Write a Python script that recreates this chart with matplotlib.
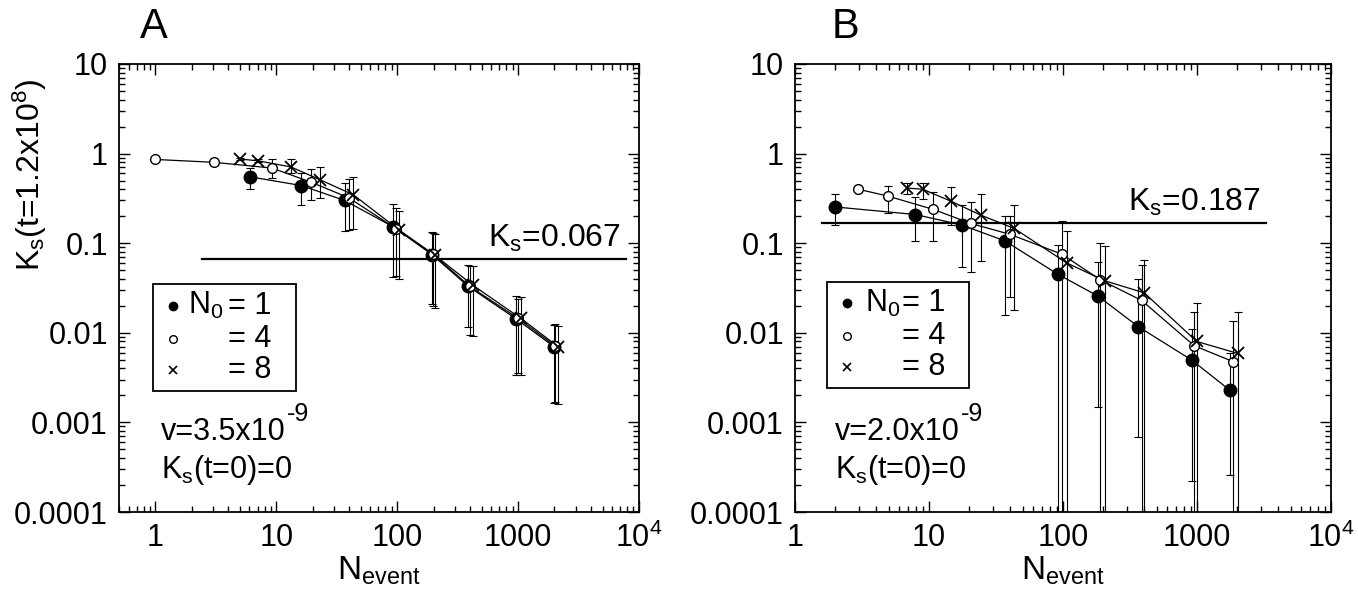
import numpy as np
import matplotlib
matplotlib.use('Agg')
import matplotlib.pyplot as plt
from matplotlib.patches import Rectangle

plt.rcParams['font.family'] = ['Liberation Sans', 'DejaVu Sans']
plt.rcParams['mathtext.fontset'] = 'custom'
plt.rcParams['mathtext.rm'] = 'Liberation Sans'
plt.rcParams['mathtext.it'] = 'Liberation Sans'
plt.rcParams['mathtext.bf'] = 'Liberation Sans:bold'

BOTTOM = 1e-6  # error bars that run off the bottom of the log axis

# ---- panel A data (v=3.5e-9) ----
a_x1 = [6.1, 16.1, 36.7, 93, 194, 388, 962, 1985]
a_y1 = [0.55, 0.44, 0.30, 0.152, 0.0746, 0.0329, 0.0143, 0.0070]
a_hi1 = [0.69, 0.61, 0.47, 0.274, 0.134, 0.057, 0.0256, 0.0123]
a_lo1 = [0.40, 0.27, 0.136, 0.042, 0.021, 0.0115, 0.0034, 0.00165]

a_x4 = [1, 3.03, 9.2, 19.4, 40, 98, 198, 398, 998, 2030]
a_y4 = [0.86, 0.80, 0.69, 0.48, 0.32, 0.145, 0.075, 0.033, 0.0145, 0.0071]
a_hi4 = [0.90, 0.84, 0.86, 0.67, 0.52, 0.25, 0.13, 0.056, 0.024, 0.0125]
a_lo4 = [0.82, 0.76, 0.53, 0.30, 0.14, 0.043, 0.020, 0.0095, 0.0036, 0.0017]

a_x8 = [5.0, 7.1, 13.2, 23.1, 43.5, 104, 206, 422, 1052, 2144]
a_y8 = [0.87, 0.83, 0.71, 0.51, 0.346, 0.14, 0.073, 0.034, 0.0145, 0.0070]
a_hi8 = [0.90, 0.86, 0.86, 0.70, 0.55, 0.23, 0.128, 0.055, 0.025, 0.012]
a_lo8 = [0.84, 0.80, 0.61, 0.32, 0.145, 0.040, 0.019, 0.0092, 0.0034, 0.0016]

a_ks = 0.067
a_ks_x = [2.45, 7800]

# ---- panel B data (v=2.0e-9) ----
b_x1 = [1.99, 7.9, 17.5, 36.9, 91, 183, 365, 912, 1763]
b_y1 = [0.254, 0.209, 0.160, 0.106, 0.0453, 0.0256, 0.0117, 0.00497, 0.00228]
b_hi1 = [0.357, 0.33, 0.27, 0.20, 0.096, 0.062, 0.040, 0.011, 0.006]
b_lo1 = [0.160, 0.107, 0.054, 0.016, BOTTOM, 0.0015, 0.00069, 0.00022, 0.00026]

b_x4 = [2.97, 4.92, 10.8, 20.5, 40, 98, 190, 386, 955, 1867]
b_y4 = [0.40, 0.336, 0.238, 0.166, 0.126, 0.0754, 0.039, 0.023, 0.00716, 0.00476]
b_hi4 = [0.43, 0.44, 0.37, 0.29, 0.20, 0.177, 0.101, 0.057, 0.0169, 0.0134]
b_lo4 = [0.37, 0.22, 0.107, 0.048, 0.025, BOTTOM, BOTTOM, BOTTOM, BOTTOM, BOTTOM]

b_x8 = [6.8, 8.97, 14.6, 24.3, 43.3, 107, 206, 404, 995, 2013]
b_y8 = [0.413, 0.40, 0.294, 0.206, 0.146, 0.060, 0.038, 0.0279, 0.0080, 0.00589]
b_hi8 = [0.47, 0.47, 0.42, 0.35, 0.265, 0.137, 0.093, 0.065, 0.0216, 0.0169]
b_lo8 = [0.35, 0.31, 0.16, 0.064, 0.0178, BOTTOM, BOTTOM, BOTTOM, BOTTOM, BOTTOM]

b_ks = 0.17
b_ks_x = [1.58, 3300]

xticks = [1, 10, 100, 1000, 1e4]
xtick_labels = ['1', '10', '100', '1000', '10$^4$']
yticks = [1e-4, 1e-3, 1e-2, 1e-1, 1, 10]
ytick_labels = ['0.0001', '0.001', '0.01', '0.1', '1', '10']

FS = 22


def series(ax, x, y, lo, hi, style):
    x = np.array(x)
    y = np.array(y)
    err = [y - np.array(lo), np.array(hi) - y]
    ax.errorbar(x, y, yerr=err, fmt='none', ecolor='k', elinewidth=0.8,
                capsize=3, capthick=0.8, zorder=2)
    ax.plot(x, y, '-', color='k', lw=0.9, zorder=3)
    if style == 'filled':
        ax.plot(x, y, 'o', color='k', ms=9, zorder=4)
    elif style == 'open':
        ax.plot(x, y, 'o', mfc='white', mec='k', ms=7, mew=1.0, zorder=4)
    else:
        ax.plot(x, y, 'x', color='k', ms=8, mew=1.3, zorder=4)


def panel(ax, data, ks, ks_x, ks_text, vtext, xlim, leg):
    for d, st in zip(data, ['filled', 'open', 'cross']):
        series(ax, *d, st)
    ax.plot(ks_x, [ks, ks], '-', color='k', lw=1.6, zorder=3)
    ax.text(ks_x[1] * 0.9, ks * 1.12, ks_text, ha='right', va='bottom', fontsize=FS + 1)

    ax.set_xscale('log')
    ax.set_yscale('log')
    ax.set_xlim(*xlim)
    ax.set_ylim(1e-4, 10)
    ax.set_xticks(xticks)
    ax.set_xticklabels(xtick_labels, fontsize=FS)
    ax.set_yticks(yticks)
    ax.set_yticklabels(ytick_labels, fontsize=FS)
    ax.tick_params(which='both', direction='in', top=True, right=True, width=1.0)
    ax.tick_params(which='major', length=8, pad=8)
    ax.tick_params(which='minor', length=4)
    for s in ax.spines.values():
        s.set_linewidth(1.3)
    ax.set_xlabel('N$_{\\mathrm{event}}$', fontsize=FS + 2, labelpad=0)

    # hand-made legend box
    bx0, bx1, by0, by1, mx, nx, ex = leg
    ax.add_patch(Rectangle((bx0, by0), bx1 - bx0, by1 - by0, transform=ax.transAxes,
                           fill=False, ec='k', lw=1.3, zorder=5))
    rows = [by0 + (by1 - by0) * f for f in (0.80, 0.49, 0.20)]
    ax.plot([mx], [rows[0]], 'o', color='k', ms=6, transform=ax.transAxes, zorder=6)
    ax.plot([mx], [rows[1]], 'o', mfc='white', mec='k', ms=5.5, mew=1.0,
            transform=ax.transAxes, zorder=6)
    ax.plot([mx], [rows[2]], 'x', color='k', ms=6, mew=1.2, transform=ax.transAxes, zorder=6)
    ax.text(nx, rows[0], 'N$_0$', transform=ax.transAxes, fontsize=FS, va='center', ha='left')
    for r, n in zip(rows, ['1', '4', '8']):
        ax.text(ex, r, '= ' + n, transform=ax.transAxes, fontsize=FS, va='center', ha='left')

    vt = ax.text(bx0 + 0.015, 0.16, vtext, transform=ax.transAxes, fontsize=FS, va='baseline')
    ax.annotate('-9', xy=(1.01, 0.72), xycoords=vt, fontsize=FS - 4, va='bottom', ha='left')
    ax.text(bx0 + 0.015, 0.075, 'K$_\\mathrm{s}$(t=0)=0', transform=ax.transAxes,
            fontsize=FS, va='baseline')


fig = plt.figure(figsize=(13.58, 5.93), dpi=100, facecolor='white')
axA = fig.add_axes([119 / 1358, 1 - 512 / 593, 520 / 1358, 448 / 593])
axB = fig.add_axes([795 / 1358, 1 - 512 / 593, 536 / 1358, 448 / 593])

panel(axA,
      [(a_x1, a_y1, a_lo1, a_hi1), (a_x4, a_y4, a_lo4, a_hi4), (a_x8, a_y8, a_lo8, a_hi8)],
      a_ks, a_ks_x, 'K$_\\mathrm{s}$=0.067', 'v=3.5x10', (0.5, 1e4),
      (0.065, 0.340, 0.270, 0.508, 0.104, 0.133, 0.21))
panel(axB,
      [(b_x1, b_y1, b_lo1, b_hi1), (b_x4, b_y4, b_lo4, b_hi4), (b_x8, b_y8, b_lo8, b_hi8)],
      b_ks, b_ks_x, 'K$_\\mathrm{s}$=0.187', 'v=2.0x10', (1, 1e4),
      (0.059, 0.325, 0.277, 0.513, 0.097, 0.131, 0.199))

fig.text(30 / 1358, 1 - 175 / 593, 'K$_\\mathrm{s}$(t=1.2x10$^8$)', rotation=90,
         ha='center', va='center', fontsize=FS + 1)
fig.text(140 / 1358, 1 - 38 / 593, 'A', fontsize=30, ha='left', va='baseline')
fig.text(832 / 1358, 1 - 38 / 593, 'B', fontsize=30, ha='left', va='baseline')

plt.savefig('out.png', dpi=100, facecolor='white')
